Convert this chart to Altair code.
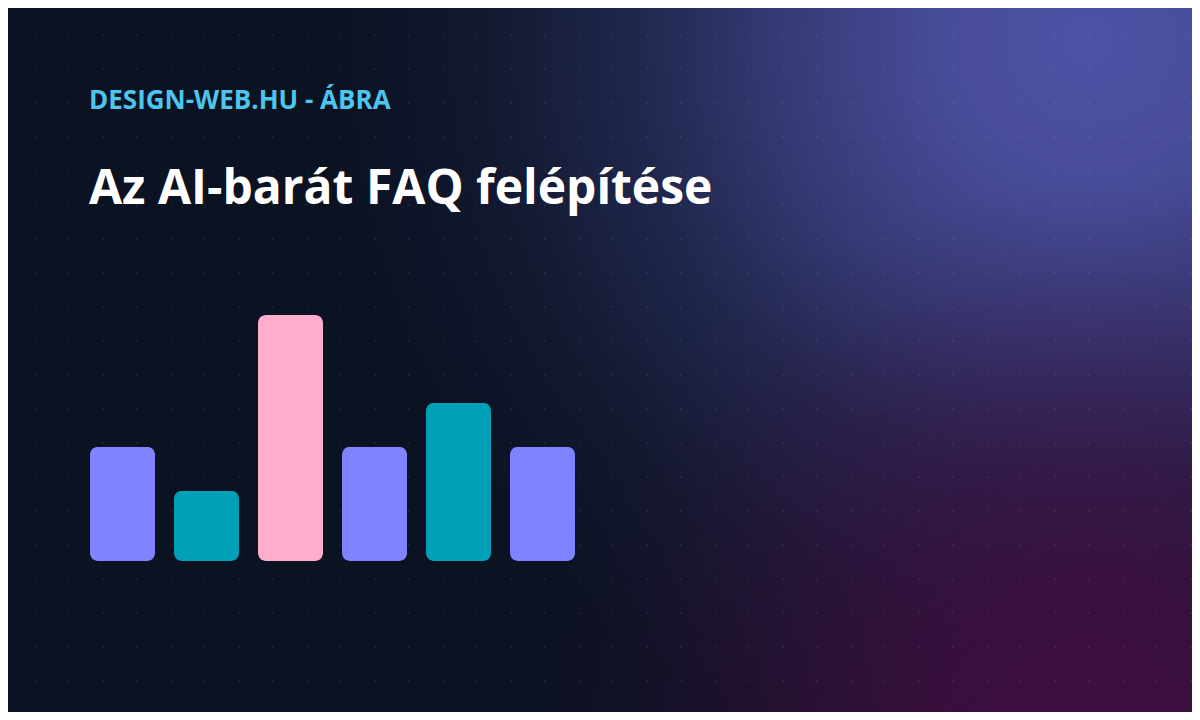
import altair as alt
import pandas as pd

# ---- data ----
steps = ["1", "2", "3", "4", "5", "6"]
values = [26, 16, 56, 26, 36, 26]
bar_colors = ["#8083ff", "#00a0b8", "#ffadcc", "#8083ff", "#00a0b8", "#8083ff"]
kicker = "DESIGN-WEB.HU - ÁBRA"
title_text = "Az AI-barát FAQ felépítése"

W, H = 1184, 704
BASE = "#0b1222"

df = pd.DataFrame({"step": steps, "value": values})
one = alt.Data(values=[{"k": 1}])

base_bg = alt.Chart(one).mark_rect(color=BASE).encode(
    x=alt.value(0), x2=alt.value(W), y=alt.value(0), y2=alt.value(H)
)

blue = {
    "gradient": "radial",
    "stops": [
        {"offset": 0.0, "color": "rgba(78,82,166,1)"},
        {"offset": 0.2, "color": "rgba(78,82,166,0.9)"},
        {"offset": 0.4, "color": "rgba(78,82,166,0.64)"},
        {"offset": 0.6, "color": "rgba(78,82,166,0.32)"},
        {"offset": 0.8, "color": "rgba(78,82,166,0.1)"},
        {"offset": 1.0, "color": "rgba(78,82,166,0)"},
    ],
}
cx, cy, R = 1090 - 8, 40 - 8, 760
blue_glow = alt.Chart(one).mark_rect(color=blue, clip=True).encode(
    x=alt.value(cx - R), x2=alt.value(cx + R), y=alt.value(cy - R), y2=alt.value(cy + R)
)

mag = {
    "gradient": "radial",
    "stops": [
        {"offset": 0.0, "color": "rgba(64,14,64,1)"},
        {"offset": 0.3, "color": "rgba(64,14,64,0.8)"},
        {"offset": 0.6, "color": "rgba(64,14,64,0.4)"},
        {"offset": 0.85, "color": "rgba(64,14,64,0.1)"},
        {"offset": 1.0, "color": "rgba(64,14,64,0)"},
    ],
}
mx, my, mr = 1090 - 8, 740 - 8, 560
mag_glow = alt.Chart(one).mark_rect(color=mag, clip=True).encode(
    x=alt.value(mx - mr), x2=alt.value(mx + mr), y=alt.value(my - mr), y2=alt.value(my + mr)
)

dots = (
    alt.Chart(alt.sequence(0, 36, as_="i"))
    .transform_calculate(j="sequence(0, 22)")
    .transform_flatten(["j"])
    .transform_calculate(px="-7 + 34*datum.i", py="-7 + 34*datum.j")
    .mark_circle(size=5, color="#ffffff", opacity=0.08)
    .encode(x=alt.X("px:Q", scale=None, axis=None), y=alt.Y("py:Q", scale=None, axis=None))
)

bars = (
    alt.Chart(df)
    .mark_bar(cornerRadius=8)
    .encode(
        x=alt.X("step:N", sort=None, axis=None,
                scale=alt.Scale(range=[82, 567], paddingInner=19 / 84, paddingOuter=0)),
        y=alt.Y("value:Q", axis=None, scale=alt.Scale(domain=[0, 56], range=[553, 307])),
        color=alt.Color("step:N", legend=None,
                        scale=alt.Scale(domain=steps, range=bar_colors)),
    )
)

kicker_mark = alt.Chart(one).mark_text(
    align="left", baseline="alphabetic", font="Open Sans", fontWeight="bold",
    fontSize=26, color="#4cc6ec"
).encode(x=alt.value(81), y=alt.value(100.5), text=alt.value(kicker))

title_mark = alt.Chart(one).mark_text(
    align="left", baseline="alphabetic", font="Open Sans", fontWeight="bold",
    fontSize=48, color="#ffffff"
).encode(x=alt.value(81), y=alt.value(195.5), text=alt.value(title_text))

chart = (
    alt.layer(base_bg, blue_glow, mag_glow, dots, bars, kicker_mark, title_mark)
    .resolve_scale(x="independent", y="independent", color="independent")
    .properties(width=W, height=H, padding=0, autosize=alt.AutoSizeParams(type="none"),
                background=BASE)
    .configure_view(stroke=None)
)

chart.save("out.html", embed_options={"renderer": "svg", "actions": False})
